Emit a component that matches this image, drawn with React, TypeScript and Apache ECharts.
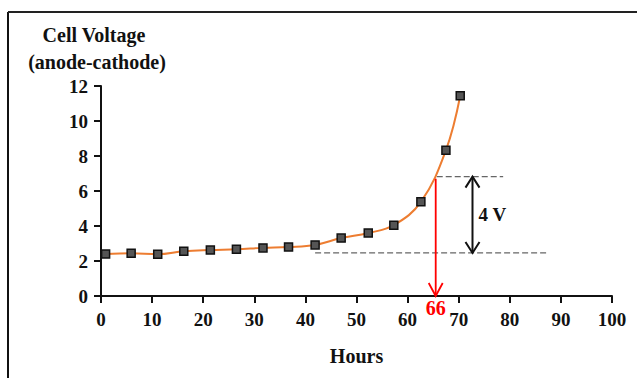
import React, { useEffect, useRef } from "react";
import * as echarts from "echarts";

// Measured data points (hours, cell voltage)
const hours = [0.9, 5.9, 11.1, 16.2, 21.4, 26.5, 31.7, 36.7, 41.9, 47.0, 52.3, 57.3, 62.6, 67.5, 70.3];
const voltage = [2.40, 2.44, 2.39, 2.56, 2.63, 2.67, 2.75, 2.80, 2.92, 3.31, 3.60, 4.05, 5.38, 8.33, 11.44];

// Annotation values
const levelLines = [
  [65.7, 6.82, 78.7],
  [41.9, 2.46, 87.7],
];
const deltaArrow = [72.7, 2.46, 6.82];
const deltaLabel = "4 V";
const cutoffArrow = [65.5, 6.7, 0];
const cutoffLabel = "66";

const xTicks = { min: 0, max: 100, interval: 10 };
const yTicks = { min: 0, max: 12, interval: 2 };

const FONT = "Liberation Serif";

export default function App() {
  const ref = useRef<HTMLDivElement>(null);
  useEffect(() => {
    const chart = echarts.init(ref.current!, null, { renderer: "svg" });
    const option: any = {
      animation: false,
      textStyle: { fontFamily: FONT },
      grid: { left: 101, right: 25, top: 86, bottom: 82 },
      xAxis: {
        type: "value",
        min: xTicks.min,
        max: xTicks.max,
        interval: xTicks.interval,
        name: "Hours",
        nameLocation: "middle",
        nameGap: 50,
        nameTextStyle: { fontFamily: FONT, fontWeight: "bold", fontSize: 20, color: "#111" },
        axisLine: { lineStyle: { color: "#111", width: 2 } },
        axisTick: { length: 7, lineStyle: { color: "#111", width: 2 } },
        axisLabel: { margin: 14, fontFamily: FONT, fontWeight: "bold", fontSize: 19, color: "#111" },
        splitLine: { show: false },
      },
      yAxis: {
        type: "value",
        min: yTicks.min,
        max: yTicks.max,
        interval: yTicks.interval,
        axisLine: { show: true, lineStyle: { color: "#111", width: 2 } },
        axisTick: { show: true, length: 7, lineStyle: { color: "#111", width: 2 } },
        axisLabel: { margin: 13, fontFamily: FONT, fontWeight: "bold", fontSize: 19, color: "#111" },
        splitLine: { show: false },
      },
      graphic: [
        { type: "line", shape: { x1: 8, y1: 12, x2: 8, y2: 378 }, style: { stroke: "#111", lineWidth: 2 } },
        { type: "line", shape: { x1: 8, y1: 12, x2: 637, y2: 12 }, style: { stroke: "#222", lineWidth: 2 } },
        {
          type: "text",
          x: 94,
          y: 35,
          style: { text: "Cell Voltage", fontFamily: FONT, fontWeight: "bold", fontSize: 20, fill: "#111", align: "center", verticalAlign: "middle" },
        },
        {
          type: "text",
          x: 97,
          y: 62,
          style: { text: "(anode-cathode)", fontFamily: FONT, fontWeight: "bold", fontSize: 20, fill: "#111", align: "center", verticalAlign: "middle" },
        },
      ],
      series: [
        {
          type: "line",
          data: hours.map((h, i) => [h, voltage[i]]),
          smooth: 0.4,
          symbol: "rect",
          symbolSize: 8,
          itemStyle: { color: "#555", borderColor: "#111", borderWidth: 1.5 },
          lineStyle: { color: "#ED7D31", width: 2 },
          z: 3,
        },
        {
          type: "custom",
          data: levelLines,
          clip: false,
          renderItem: (params: any, api: any) => {
            const a = api.coord([api.value(0), api.value(1)]);
            const b = api.coord([api.value(2), api.value(1)]);
            return {
              type: "line",
              shape: { x1: a[0], y1: a[1], x2: b[0], y2: b[1] },
              style: { stroke: "#666", lineWidth: 1.3, lineDash: [6, 3] },
            };
          },
          z: 2,
        },
        {
          type: "custom",
          data: [deltaArrow],
          clip: false,
          renderItem: (params: any, api: any) => {
            const x = api.value(0);
            const lo = api.coord([x, api.value(1)]);
            const hi = api.coord([x, api.value(2)]);
            const hw = 7, hh = 11;
            const style = { stroke: "#111", lineWidth: 2, fill: "none" };
            return {
              type: "group",
              children: [
                { type: "line", shape: { x1: lo[0], y1: lo[1], x2: hi[0], y2: hi[1] }, style },
                { type: "polyline", shape: { points: [[hi[0] - hw, hi[1] + hh], [hi[0], hi[1]], [hi[0] + hw, hi[1] + hh]] }, style },
                { type: "polyline", shape: { points: [[lo[0] - hw, lo[1] - hh], [lo[0], lo[1]], [lo[0] + hw, lo[1] - hh]] }, style },
                {
                  type: "text",
                  style: {
                    text: deltaLabel,
                    x: lo[0] + 6,
                    y: (lo[1] + hi[1]) / 2,
                    fontFamily: FONT,
                    fontWeight: "bold",
                    fontSize: 19,
                    fill: "#111",
                    align: "left",
                    verticalAlign: "middle",
                  },
                },
              ],
            };
          },
          z: 4,
        },
        {
          type: "custom",
          data: [cutoffArrow],
          clip: false,
          renderItem: (params: any, api: any) => {
            const x = api.value(0);
            const top = api.coord([x, api.value(1)]);
            const bot = api.coord([x, api.value(2)]);
            const hw = 7, hh = 13;
            const style = { stroke: "#FF0000", lineWidth: 1.8, fill: "none" };
            return {
              type: "group",
              children: [
                { type: "line", shape: { x1: top[0], y1: top[1], x2: bot[0], y2: bot[1] }, style },
                { type: "polyline", shape: { points: [[bot[0] - hw, bot[1] - hh], [bot[0], bot[1]], [bot[0] + hw, bot[1] - hh]] }, style },
                {
                  type: "text",
                  style: {
                    text: cutoffLabel,
                    x: bot[0],
                    y: bot[1] + 12,
                    fontFamily: FONT,
                    fontWeight: "bold",
                    fontSize: 20,
                    fill: "#FF0000",
                    align: "center",
                    verticalAlign: "middle",
                  },
                },
              ],
            };
          },
          z: 5,
        },
      ],
    };
    chart.setOption(option);
    return () => chart.dispose();
  }, []);
  return (
    <div style={{ position: "absolute", left: 0, top: 0, width: 637, height: 378, background: "#fff" }}>
      <div ref={ref} style={{ width: 637, height: 378 }} />
    </div>
  );
}
